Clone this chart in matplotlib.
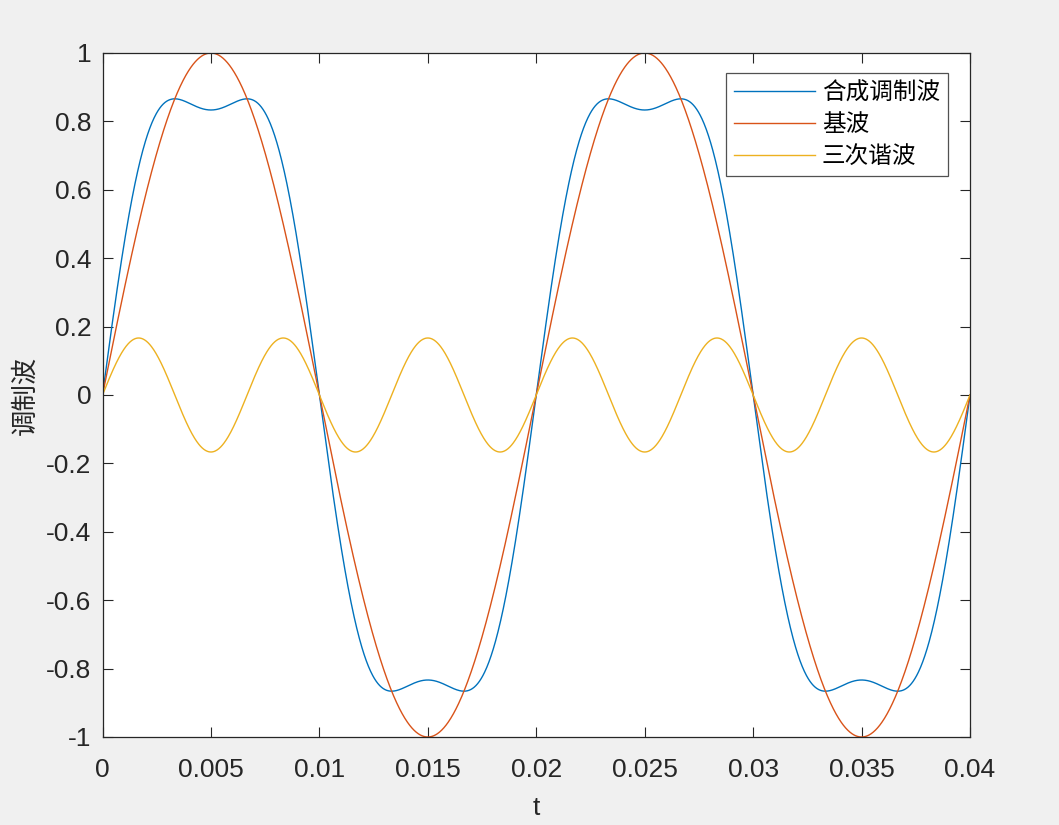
import numpy as np
import matplotlib
matplotlib.use("Agg")
import matplotlib.pyplot as plt

# 信号参数 (从图上读出: 50Hz 基波, 幅值 1; 三次谐波幅值约 1/6)
t_start, t_stop, n_pts = 0.0, 0.04, 2001
f_base = 50
amp_base = 1.0
amp_third = 1.0 / 6
labels = ['合成调制波', '基波', '三次谐波']
colors = ['#0072BD', '#D95319', '#EDB120']
xticks = [0, 0.005, 0.01, 0.015, 0.02, 0.025, 0.03, 0.035, 0.04]
xtick_labels = ['0', '0.005', '0.01', '0.015', '0.02', '0.025', '0.03', '0.035', '0.04']
yticks = [-1, -0.8, -0.6, -0.4, -0.2, 0, 0.2, 0.4, 0.6, 0.8, 1]
ytick_labels = ['-1', '-0.8', '-0.6', '-0.4', '-0.2', '0', '0.2', '0.4', '0.6', '0.8', '1']

t = np.linspace(t_start, t_stop, n_pts)
base = amp_base * np.sin(2 * np.pi * f_base * t)
third = amp_third * np.sin(2 * np.pi * 3 * f_base * t)
combo = base + third

plt.rcParams['font.family'] = ['Liberation Sans', 'Noto Sans CJK SC']

fig = plt.figure(figsize=(10.59, 8.25), dpi=100, facecolor='#f0f0f0')
ax = fig.add_axes([102.5 / 1059, 1 - 737 / 825, (970 - 102.5) / 1059, (737 - 53) / 825])

for y, lab, c in zip([combo, base, third], labels, colors):
    ax.plot(t, y, color=c, lw=1.0, label=lab)

ax.set_xlim(t_start, t_stop)
ax.set_ylim(-1, 1)
ax.set_xticks(xticks)
ax.set_xticklabels(xtick_labels)
ax.set_yticks(yticks)
ax.set_yticklabels(ytick_labels)
ax.tick_params(direction='in', length=7, width=0.8, top=True, right=True,
               labelsize=19, colors='#262626')
ax.tick_params(axis='x', pad=15)
ax.tick_params(axis='y', pad=8)
for s in ax.spines.values():
    s.set_color('#262626')
    s.set_linewidth(0.9)

ax.set_xlabel('t', fontsize=19, color='#262626', labelpad=10)
ax.set_ylabel('调制波', fontsize=19, color='#262626',
              family=['Noto Sans CJK SC'], labelpad=5)

leg = ax.legend(loc='upper right', bbox_to_anchor=(948 / 1059, 1 - 73 / 825),
                bbox_transform=fig.transFigure, prop={'family': 'Noto Sans CJK SC', 'size': 17},
                frameon=True, fancybox=False, handlelength=3.4, borderpad=0.35,
                labelspacing=0.38, handletextpad=0.3, borderaxespad=0)
leg.get_frame().set_edgecolor('#262626')
leg.get_frame().set_linewidth(0.9)

fig.savefig('out.png', dpi=100, facecolor=fig.get_facecolor())
